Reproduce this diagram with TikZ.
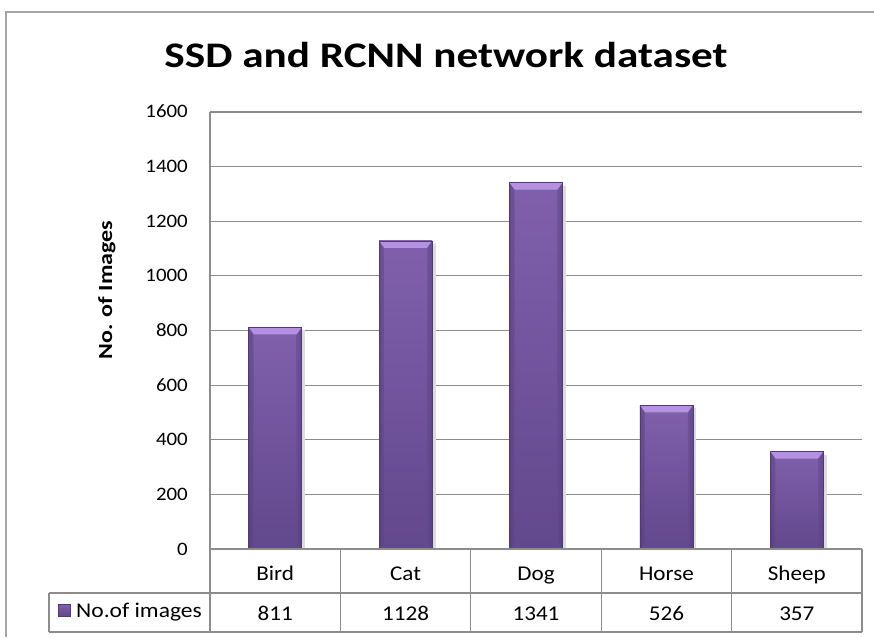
\documentclass[tikz,border=0pt]{standalone}
\usepackage{fontspec}
\setmainfont{Carlito}
\definecolor{framec}{RGB}{165,165,165}
\definecolor{gridc}{RGB}{140,140,140}
\definecolor{bartop}{RGB}{128,96,172}
\definecolor{barbot}{RGB}{98,72,140}
\definecolor{baredge}{RGB}{80,58,115}
\definecolor{barhi}{RGB}{180,146,225}
\definecolor{shadowc}{RGB}{220,220,220}
\newcommand{\wide}[1]{\scalebox{1.1}[1]{#1}}
\tikzset{
  gridline/.style={draw=gridc, line width=1.1pt},
  ticklab/.style={anchor=base east, font=\fontsize{19}{19}\selectfont, inner sep=0pt},
  catlab/.style={anchor=base, font=\fontsize{21}{21}\selectfont, inner sep=0pt},
  vallab/.style={anchor=base, font=\fontsize{21}{21}\selectfont, inner sep=0pt},
}
\begin{document}
\begin{tikzpicture}[x=1pt,y=-1pt]
\useasboundingbox (0,0) rectangle (874,637);
\fill[white] (0,0) rectangle (874,637);
% outer frame
\draw[framec, line width=1.3pt] (6,637) -- (6,12) -- (874,12);
% title
\node[font=\bfseries\fontsize{36}{36}\selectfont, inner sep=0pt, anchor=base] (title) at (446,67) {\scalebox{1.2}[1]{SSD and RCNN network dataset}};
% y axis title
\node[font=\bfseries\fontsize{20}{20}\selectfont, rotate=90, inner sep=0pt, anchor=base] (ytitle) at (112,290) {\scalebox{1.2}[1]{No. of Images}};
% gridlines and tick labels
\foreach \v [count=\k] in {0,200,...,1600}{
  \pgfmathsetmacro{\yy}{549-\v*0.273125}
  \draw[gridline] (210,\yy) -- (862,\yy);
  \node[ticklab] (tick\k) at (188,\yy+6) {\wide{\v}};
}
% bars
\foreach \i/\n/\v in {0/Bird/811,1/Cat/1128,2/Dog/1341,3/Horse/526,4/Sheep/357}{
  \pgfmathsetmacro{\cx}{210+130.4*(\i+0.5)}
  \pgfmathsetmacro{\xl}{\cx-26.5}
  \pgfmathsetmacro{\xr}{\cx+26.5}
  \pgfmathsetmacro{\yt}{549-\v*0.273125}
  \fill[shadowc] (\xr,\yt+3) rectangle (\xr+3.5,549);
  \shade[top color=bartop, bottom color=barbot] (\xl,\yt) rectangle (\xr,549);
  \fill[barhi] (\xl,\yt) -- (\xr,\yt) -- (\xr-5,\yt+7) -- (\xl+5,\yt+7) -- cycle;
  \shade[left color=baredge, right color=barbot, opacity=0.5] (\xl,\yt) -- (\xl+5,\yt+7) -- (\xl+5,544) -- (\xl,549) -- cycle;
  \shade[left color=barbot, right color=baredge, opacity=0.5] (\xr,\yt) -- (\xr-5,\yt+7) -- (\xr-5,544) -- (\xr,549) -- cycle;
  \draw[baredge, line width=0.5pt] (\xl,\yt) rectangle (\xr,549);
  \node[catlab] (cat\i) at (\cx,580) {\wide{\n}};
  \node[vallab] (val\i) at (\cx,620) {\wide{\v}};
}
% table lines
\draw[gridline] (210,549) -- (862,549);
\draw[gridline] (49,593) -- (862,593);
\draw[gridline] (49,632) -- (862,632);
\draw[gridline] (49,593) -- (49,632);
\draw[gridline] (210,112) -- (210,632);
\foreach \j in {1,2,3,4,5}{
  \pgfmathsetmacro{\xx}{210+130.4*\j}
  \draw[gridline] (\xx,549) -- (\xx,632);
}
% legend
\shade[top color=bartop, bottom color=barbot, draw=baredge, line width=0.5pt] (58,604) rectangle (70,616);
\node[font=\fontsize{21}{21}\selectfont, anchor=base west, inner sep=0pt] (legtext) at (76,617) {\scalebox{1.12}[1]{No.of images}};
\end{tikzpicture}
\end{document}
